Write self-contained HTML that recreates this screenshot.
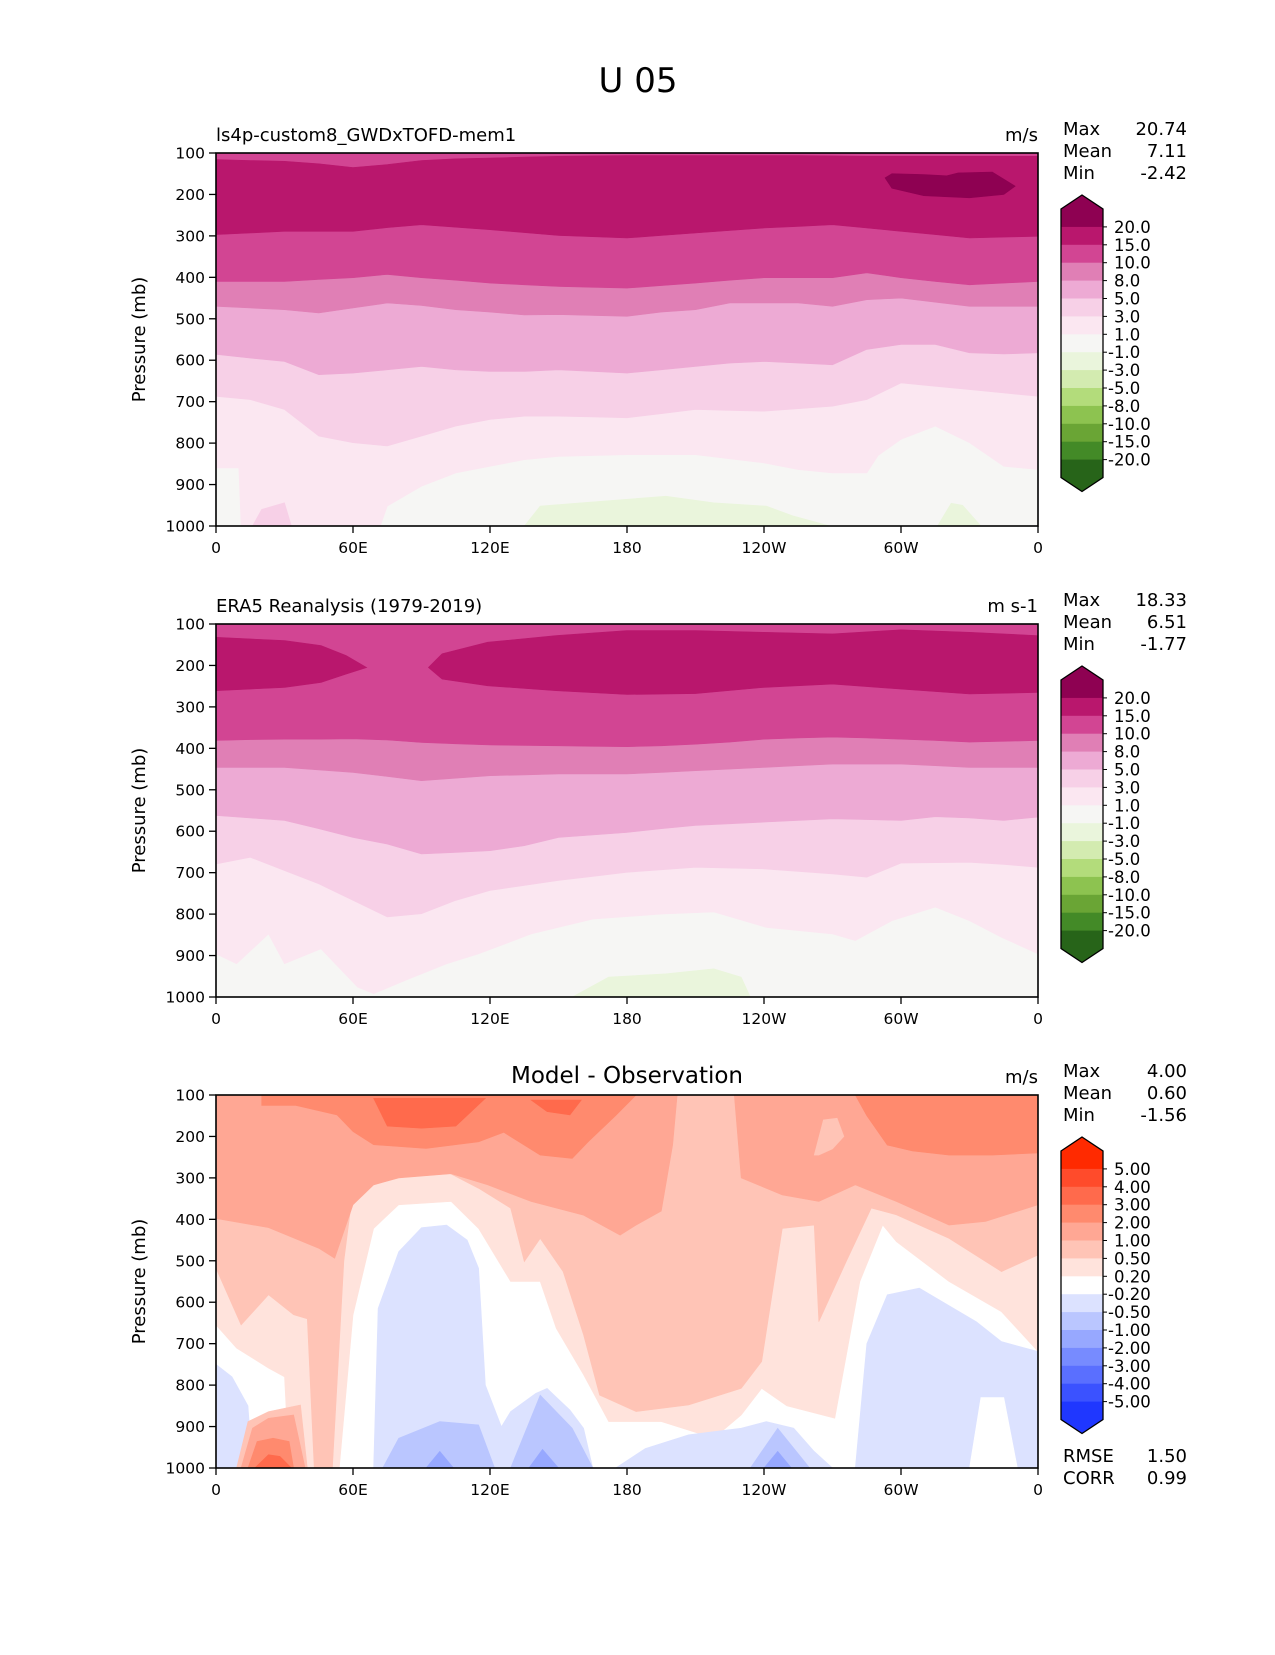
<!DOCTYPE html>
<html><head><meta charset="utf-8"><style>
html,body{margin:0;padding:0;background:#fff;}
svg text{font-family:"DejaVu Sans","Liberation Sans",sans-serif;fill:#000;}
</style></head><body>
<svg id="fig" width="1275" height="1650" viewBox="0 0 1275 1650" xmlns="http://www.w3.org/2000/svg">
<rect x="0" y="0" width="1275" height="1650" fill="#fff"/>
<text x="638" y="92" font-size="34" text-anchor="middle">U 05</text>
</svg>
<script>
// ---------- data ----------
const grid = [0,15,30,45,60,75,90,105,120,135,150,165,180,195,210,225,240,255,270,285,300,315,330,345,360];
const yTicks = [100,200,300,400,500,600,700,800,900,1000];
const xTickLons = [0,60,120,180,240,300,360];
const xTickLabels = ["0","60E","120E","180","120W","60W","0"];

// Panel 1 (model)
const p1TopStrip = [116,118,120,126,135,128,118,114,112,110,108,107,106,106,106,106,106,106,107,108,108,108,108,108,108];
const p1B15 = [297,293,289,289,289,280,273,279,285,292,299,302,305,299,293,287,281,277,273,281,289,297,305,303,301];
const p1B10 = [410,410,410,405,401,393,401,407,414,418,422,424,426,420,414,407,401,401,401,389,401,410,418,414,410];
const p1B8 = [470,474,478,486,474,462,468,478,484,491,490,492,494,484,478,462,462,462,470,454,450,460,470,470,470];
const p1B5 = [586,595,603,635,631,623,615,623,627,627,623,627,631,623,615,607,603,607,611,574,562,562,582,585,582];
const p1B3 = [687,695,719,783,799,807,783,759,743,735,735,737,739,729,719,721,723,717,711,695,655,663,671,679,687];
const p1B1Lon = [0,10,11,71,72,75,90,105,120,135,150,180,210,240,255,270,285,290,300,315,330,345,360];
const p1B1 = [860,860,1000,1000,1000,952,904,872,856,840,832,828,828,848,864,872,872,830,791,759,799,856,864];
const p1DarkLon = [293,296,310,320,325,340,350,345,330,310,296];
const p1DarkP = [160,150,152,155,148,146,180,200,208,203,185];
const p1GreenLon = [135,142,160,197,218,241,253,269];
const p1GreenP = [1000,952,944,928,944,952,976,1000];
const p1Green2Lon = [316,322,327,335];
const p1Green2P = [1000,945,950,1000];
const p1PinkLon = [16,20,30,33];
const p1PinkP = [1000,960,944,1000];

// Panel 2 (ERA5)
const p2CoreLLon = [0,30,46,57,66];
const p2CoreLTop = [132,140,152,176,205];
const p2CoreLBot = [261,253,241,221,205];
const p2CoreRLon = [93,99,119,149,180,210,240,270,300,330,360];
const p2CoreRTop = [205,172,144,128,116,116,120,124,114,120,128];
const p2CoreRBot = [205,233,249,261,270,268,253,245,257,269,265];
const p2B10 = [381,379,378,378,377,380,386,389,392,393,394,395,396,394,390,385,378,375,373,375,378,381,385,383,381];
const p2B8 = [446,446,446,452,458,468,478,472,466,464,462,462,462,458,454,450,446,442,438,438,438,442,446,446,446];
const p2B5 = [562,568,574,594,615,631,655,651,647,635,615,609,603,594,586,582,578,574,570,572,574,565,568,574,566];
const p2B3 = [679,663,695,727,767,807,799,767,743,731,719,709,699,693,687,689,691,697,703,711,677,676,675,680,687];
const p2B1Lon = [0,9,23,30,46,62,69,83,101,115,138,165,195,218,241,270,280,296,315,330,344,360];
const p2B1 = [896,920,848,920,884,976,992,960,920,896,848,812,800,795,832,848,864,816,783,816,856,896];
const p2GreenLon = [156,172,197,218,230,234];
const p2GreenP = [1000,952,944,932,952,1000];

// Panel 3 (difference)
const p3B02Lon = [0,9,23,30,32,54,60,69,80,103,115,129,142,149,161,172,195,218,230,239,250,271,282,292,298,321,344,360];
const p3B02 = [655,711,759,780,1000,1000,631,422,365,357,422,550,550,663,775,888,888,928,872,808,850,880,550,414,454,550,623,719];
const p3B05Lon = [0,11,23,34,40,43,51,56,60,67,80,101,115,129,135,142,152,161,168,184,207,230,239,248,262,264,276,287,298,321,344,360];
const p3B05 = [518,655,582,630,640,1000,1000,500,330,309,293,285,325,373,502,446,526,679,824,864,848,808,743,422,414,647,502,373,389,446,526,486];
const p3B1Lon = [0,23,45,52,60,69,80,103,119,138,161,177,184,195,200,202,227,230,248,264,280,298,321,337,360];
const p3B1 = [398,420,470,494,365,317,300,290,317,357,390,438,414,380,220,100,100,300,341,357,317,357,414,405,365];
const p3B2LLon = [20,35,53,60,69,92,115,126,142,156,163,175,184];
const p3B2L = [125,125,148,188,220,229,213,190,245,253,213,150,100];
const p3B2RLon = [280,285,294,305,321,340,360];
const p3B2R = [100,150,221,235,245,245,240];
const p3B3aLon = [69,75,90,105,118];
const p3B3a = [108,175,180,175,108];
const p3B3bLon = [138,145,155,160];
const p3B3b = [112,140,148,112];
const p3BlobLon = [262,266,272,275,270,264];
const p3BlobP = [245,160,156,200,230,245];
const p3BlueLLon = [0,7,14,16];
const p3BlueL = [750,780,850,1000];
const p3BlueCLon = [69,71,80,90,101,110,115,118,125,129,140,145,155,161,165];
const p3BlueC = [1000,615,478,420,414,450,518,800,900,864,820,808,860,904,1000];
const p3BlueRLon = [170,175,188,207,230,241,253,262,270,280,285,294,308,333,344,360];
const p3BlueR = [1000,1000,953,920,904,888,904,960,1000,1000,700,582,566,647,695,719];
const p3WhiteLon = [330,335,345,351];
const p3White = [1000,830,830,1000];
const p3Blue2aLon = [73,80,98,115,122];
const p3Blue2a = [1000,928,888,896,1000];
const p3Blue2bLon = [129,142,156,165];
const p3Blue2b = [1000,824,904,1000];
const p3Blue2cLon = [234,246,260];
const p3Blue2c = [1000,904,1000];
const p3Blue3Lon = [92,98,104,137,143,150,240,246,252];
const p3Blue3 = [1000,960,1000,1000,955,1000,1000,960,1000];
const p3RedALon = [9,14,23,37,40];
const p3RedA = [1000,888,864,848,1000];
const p3RedBLon = [11,16,23,34,39];
const p3RedB = [1000,904,880,872,1000];
const p3RedCLon = [14,18,25,32,34];
const p3RedC = [1000,936,928,936,1000];
const p3RedDLon = [17,23,28,33];
const p3RedD = [1000,968,972,1000];

// colorbars
const cb1Colors = ["#8e0152","#b9176d","#d24593","#e07fb5","#edaad4","#f7d0e7","#fbe7f1","#f6f6f4","#eaf5dc","#d3ebb0","#b3dc7b","#8dc350","#6aa535","#438a27","#276419"];
const cb1Labels = ["20.0","15.0","10.0","8.0","5.0","3.0","1.0","-1.0","-3.0","-5.0","-8.0","-10.0","-15.0","-20.0"];
const cb3Colors = ["#ff2a00","#ff4b2b","#ff6a4c","#ff8a6e","#ffa794","#ffc4b6","#ffe3dc","#ffffff","#dce2ff","#bac6ff","#97a8ff","#778bff","#5a6fff","#3b52ff","#1f37ff"];
const cb3Labels = ["5.00","4.00","3.00","2.00","1.00","0.50","0.20","-0.20","-0.50","-1.00","-2.00","-3.00","-4.00","-5.00"];

// ---------- drawing ----------
const NS = "http://www.w3.org/2000/svg";
const svg = document.getElementById("fig");
const X0 = 216, W = 822, H = 373;
function xs(lon){ return X0 + lon/360*W; }
function mkY(top){ return p => top + (p-100)/900*H; }
function el(tag, attrs, parent){
  const e = document.createElementNS(NS, tag);
  for (const k in attrs) e.setAttribute(k, attrs[k]);
  (parent||svg).appendChild(e);
  return e;
}
function area(g, ys, lons, upper, lower, color, name){
  const pts = [];
  for (let i=0;i<lons.length;i++){
    const u = Array.isArray(upper)?upper[i]:upper;
    pts.push(xs(lons[i]).toFixed(1)+","+ys(u).toFixed(1));
  }
  for (let i=lons.length-1;i>=0;i--){
    const l = Array.isArray(lower)?lower[i]:lower;
    pts.push(xs(lons[i]).toFixed(1)+","+ys(l).toFixed(1));
  }
  const p = el("polygon", {points: pts.join(" "), fill: color, stroke: color, "stroke-width": "0.6"}, g);
  
  
}
function poly(g, ys, lons, ps, color, name){
  const pts = lons.map((l,i)=>xs(l).toFixed(1)+","+ys(ps[i]).toFixed(1));
  const p = el("polygon", {points: pts.join(" "), fill: color, stroke: color, "stroke-width": "0.6"}, g);
  
  
}
function axes(top, idx, subtitle, units, title){
  const ys = mkY(top);
  const g = el("g", {});
  
  
  el("rect", {x:X0, y:top, width:W, height:H, fill:"none", stroke:"#000", "stroke-width":"1.6"}, g);
  yTicks.forEach(p=>{
    const y = ys(p);
    el("line", {x1:X0-7, x2:X0, y1:y, y2:y, stroke:"#000", "stroke-width":"1.3"}, g);
    const t = el("text", {x:X0-11, y:y+5.5, "font-size":"15.5", "text-anchor":"end"}, g);
    t.textContent = p;
    
    
  });
  xTickLons.forEach((l,i)=>{
    const x = xs(l);
    el("line", {x1:x, x2:x, y1:top+H, y2:top+H+7, stroke:"#000", "stroke-width":"1.3"}, g);
    const t = el("text", {x:x, y:top+H+27, "font-size":"15.5", "text-anchor":"middle"}, g);
    t.textContent = xTickLabels[i];
    
    
  });
  const yl = el("text", {x:0, y:0, "font-size":"18", "text-anchor":"middle", transform:"translate(145,"+(top+H/2)+") rotate(-90)"}, g);
  yl.textContent = "Pressure (mb)";
  
  
  if (subtitle){
    const s = el("text", {x:X0, y:top-12, "font-size":"18"}, g);
    s.textContent = subtitle;
    
    
  }
  if (title){
    const s = el("text", {x:X0+W/2, y:top-12, "font-size":"23", "text-anchor":"middle"}, g);
    s.textContent = title;
    
    
  }
  const u = el("text", {x:X0+W, y:top-12, "font-size":"18", "text-anchor":"end"}, g);
  u.textContent = units;
  
  
}
function stats(top, names, vals){
  names.forEach((n,i)=>{
    const a = el("text", {x:1063, y:top-18+i*22, "font-size":"18"});
    a.textContent = n;
    
    
    const b = el("text", {x:1187, y:top-18+i*22, "font-size":"18", "text-anchor":"end"});
    b.textContent = vals[i];
    
    
  });
}
function colorbar(top, colors, labels, idx){
  const g = el("g", {});
  
  
  const L = 1061, R = 1103, bh = 17.9, rt = top + 56;
  const rb = rt + bh*colors.length;
  el("polygon", {points:`${L},${rt} ${(L+R)/2},${rt-14} ${R},${rt}`, fill:colors[0]}, g);
  el("polygon", {points:`${L},${rb} ${(L+R)/2},${rb+14} ${R},${rb}`, fill:colors[colors.length-1]}, g);
  colors.forEach((c,i)=>{
    const r = el("rect", {x:L, y:rt+i*bh, width:R-L, height:bh+0.5, fill:c}, g);
    
    
  });
  el("polygon", {points:`${L},${rt} ${(L+R)/2},${rt-14} ${R},${rt} ${R},${rb} ${(L+R)/2},${rb+14} ${L},${rb}`, fill:"none", stroke:"#000", "stroke-width":"1.3"}, g);
  labels.forEach((lab,i)=>{
    const y = rt + (i+1)*bh;
    el("line", {x1:R, x2:R+4, y1:y, y2:y, stroke:"#000", "stroke-width":"1"}, g);
    const t = el("text", {x: lab[0]==="-"?1108:1114, y:y+6, "font-size":"16.5"}, g);
    t.textContent = lab;
    
    
  });
}

// Panel 1
(function(){
  const top = 153, ys = mkY(top);
  const g = el("g", {});  
  el("rect", {x:X0, y:top, width:W, height:H, fill:"#f6f6f4"}, g);
  area(g, ys, p1B1Lon, 100, p1B1, "#fbe7f1", "band-1-3");
  area(g, ys, grid, 100, p1B3, "#f7d0e7", "band-3-5");
  poly(g, ys, p1PinkLon, p1PinkP, "#f7d0e7", "patch-3-5");
  area(g, ys, grid, 100, p1B5, "#edaad4", "band-5-8");
  area(g, ys, grid, 100, p1B8, "#e07fb5", "band-8-10");
  area(g, ys, grid, 100, p1B10, "#d24593", "band-10-15");
  area(g, ys, grid, p1TopStrip, p1B15, "#b9176d", "band-15-20");
  poly(g, ys, p1DarkLon, p1DarkP, "#8e0152", "patch-above-20");
  poly(g, ys, p1GreenLon, p1GreenP, "#eaf5dc", "patch-neg-1-3");
  poly(g, ys, p1Green2Lon, p1Green2P, "#eaf5dc", "patch-neg-1-3");
  axes(top, 1, "ls4p-custom8_GWDxTOFD-mem1", "m/s", null);
  stats(top, ["Max","Mean","Min"], ["20.74","7.11","-2.42"]);
  colorbar(top, cb1Colors, cb1Labels, 1);
})();

// Panel 2
(function(){
  const top = 624, ys = mkY(top);
  const g = el("g", {});  
  el("rect", {x:X0, y:top, width:W, height:H, fill:"#f6f6f4"}, g);
  area(g, ys, p2B1Lon, 100, p2B1, "#fbe7f1", "band-1-3");
  area(g, ys, grid, 100, p2B3, "#f7d0e7", "band-3-5");
  area(g, ys, grid, 100, p2B5, "#edaad4", "band-5-8");
  area(g, ys, grid, 100, p2B8, "#e07fb5", "band-8-10");
  area(g, ys, grid, 100, p2B10, "#d24593", "band-10-15");
  area(g, ys, p2CoreLLon, p2CoreLTop, p2CoreLBot, "#b9176d", "jet-core-west");
  area(g, ys, p2CoreRLon, p2CoreRTop, p2CoreRBot, "#b9176d", "jet-core-east");
  poly(g, ys, p2GreenLon, p2GreenP, "#eaf5dc", "patch-neg-1-3");
  axes(top, 2, "ERA5 Reanalysis (1979-2019)", "m s-1", null);
  stats(top, ["Max","Mean","Min"], ["18.33","6.51","-1.77"]);
  colorbar(top, cb1Colors, cb1Labels, 2);
})();

// Panel 3
(function(){
  const top = 1095, ys = mkY(top);
  const g = el("g", {});  
  el("rect", {x:X0, y:top, width:W, height:H, fill:"#ffffff"}, g);
  area(g, ys, p3B02Lon, 100, p3B02, "#ffe3dc", "band-0.2-0.5");
  area(g, ys, p3B05Lon, 100, p3B05, "#ffc4b6", "band-0.5-1");
  area(g, ys, p3B1Lon, 100, p3B1, "#ffa794", "band-1-2");
  poly(g, ys, p3BlobLon, p3BlobP, "#ffc4b6", "patch-0.5-1");
  area(g, ys, p3B2LLon, 100, p3B2L, "#ff8a6e", "band-2-3-west");
  area(g, ys, p3B2RLon, 100, p3B2R, "#ff8a6e", "band-2-3-east");
  area(g, ys, p3B3aLon, 108, p3B3a, "#ff6a4c", "patch-3-4");
  area(g, ys, p3B3bLon, 112, p3B3b, "#ff6a4c", "patch-3-4");
  area(g, ys, p3BlueLLon, p3BlueL, 1000, "#dce2ff", "band-neg-0.2-0.5");
  area(g, ys, p3BlueCLon, p3BlueC, 1000, "#dce2ff", "band-neg-0.2-0.5");
  area(g, ys, p3BlueRLon, p3BlueR, 1000, "#dce2ff", "band-neg-0.2-0.5");
  poly(g, ys, p3WhiteLon, p3White, "#ffffff", "patch-near-zero");
  poly(g, ys, p3Blue2aLon, p3Blue2a, "#bac6ff", "patch-neg-0.5-1");
  poly(g, ys, p3Blue2bLon, p3Blue2b, "#bac6ff", "patch-neg-0.5-1");
  poly(g, ys, p3Blue2cLon, p3Blue2c, "#bac6ff", "patch-neg-0.5-1");
  poly(g, ys, p3Blue3Lon.slice(0,3), p3Blue3.slice(0,3), "#97a8ff", "patch-neg-1-2");
  poly(g, ys, p3Blue3Lon.slice(3,6), p3Blue3.slice(3,6), "#97a8ff", "patch-neg-1-2");
  poly(g, ys, p3Blue3Lon.slice(6,9), p3Blue3.slice(6,9), "#97a8ff", "patch-neg-1-2");
  poly(g, ys, p3RedALon, p3RedA, "#ffc4b6", "patch-0.5-1");
  poly(g, ys, p3RedBLon, p3RedB, "#ffa794", "patch-1-2");
  poly(g, ys, p3RedCLon, p3RedC, "#ff8a6e", "patch-2-3");
  poly(g, ys, p3RedDLon, p3RedD, "#ff6a4c", "patch-3-4");
  axes(top, 3, null, "m/s", "Model - Observation");
  stats(top, ["Max","Mean","Min"], ["4.00","0.60","-1.56"]);
  colorbar(top, cb3Colors, cb3Labels, 3);
  stats(1480, ["RMSE","CORR"], ["1.50","0.99"]);
})();
</script>
</body></html>
